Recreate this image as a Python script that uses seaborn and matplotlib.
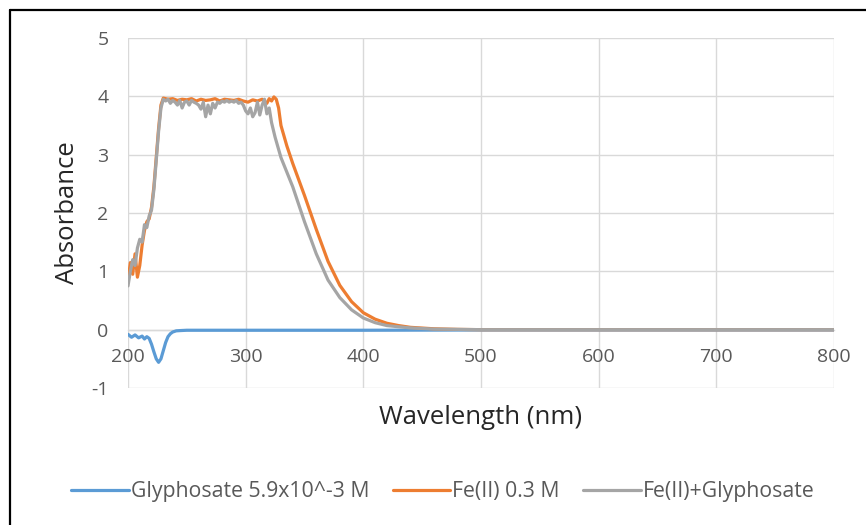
import matplotlib
matplotlib.use("Agg")
import matplotlib.pyplot as plt
from matplotlib.lines import Line2D
import seaborn as sns
import pandas as pd

# Glyphosate 5.9x10^-3 M
wl_gly = [200, 203, 206, 209, 212, 214, 216, 218, 220, 222, 224, 226, 228, 230,
          232, 234, 236, 238, 241, 245, 250, 300, 400, 500, 600, 700, 800]
abs_gly = [-0.08, -0.13, -0.09, -0.14, -0.11, -0.16, -0.12, -0.15, -0.25, -0.38, -0.5, -0.56, -0.5, -0.36,
           -0.22, -0.12, -0.07, -0.04, -0.02, -0.015, -0.01, -0.01, -0.01, -0.005, -0.005, -0.005, -0.005]

# Fe(II) 0.3 M
wl_fe = [200, 202, 204, 206, 208, 210, 212, 214, 216, 218, 220, 222, 224, 226, 228,
         230, 234, 238, 242, 246, 250, 254, 258, 262, 266, 270, 274, 278, 282, 286,
         290, 294, 298, 302, 306, 310, 314, 318, 320, 322, 324, 326, 328, 330, 335,
         340, 350, 360, 370, 380, 390, 400, 410, 420, 430, 440, 460, 480, 500, 600, 700, 800]
abs_fe = [0.85, 1.15, 0.95, 1.3, 0.9, 1.1, 1.45, 1.7, 1.85, 1.9, 2.1, 2.45, 2.95, 3.45, 3.85,
          3.97, 3.95, 3.96, 3.93, 3.95, 3.94, 3.96, 3.92, 3.95, 3.93, 3.94, 3.96, 3.92, 3.95, 3.94,
          3.93, 3.95, 3.92, 3.9, 3.94, 3.92, 3.95, 3.88, 3.96, 3.92, 3.99, 3.95, 3.8, 3.5, 3.15,
          2.85, 2.3, 1.72, 1.17, 0.76, 0.48, 0.29, 0.18, 0.11, 0.07, 0.04, 0.015, 0.005, 0.0, 0.0, 0.0, 0.0]

# Fe(II)+Glyphosate
wl_mix = [200, 202, 204, 206, 208, 210, 212, 214, 216, 218, 220, 222, 224, 226, 228,
          230, 232, 234, 236, 238, 240, 242, 244, 246, 248, 250, 252, 254, 256, 258,
          260, 262, 264, 266, 268, 270, 272, 274, 276, 278, 280, 282, 284, 286, 288,
          290, 292, 294, 296, 298, 300, 302, 304, 306, 308, 310, 312, 314, 316, 318,
          320, 322, 325, 330, 335, 340, 350, 360, 370, 380, 390, 400, 410, 420, 440,
          460, 500, 600, 700, 800]
abs_mix = [0.75, 1.0, 1.2, 1.1, 1.4, 1.55, 1.5, 1.8, 1.75, 1.95, 2.05, 2.4, 2.9, 3.4, 3.8,
           3.95, 3.92, 3.95, 3.88, 3.93, 3.9, 3.85, 3.93, 3.8, 3.9, 3.92, 3.85, 3.93, 3.9, 3.88,
           3.85, 3.78, 3.9, 3.65, 3.85, 3.7, 3.88, 3.8, 3.9, 3.88, 3.92, 3.9, 3.93, 3.9, 3.92,
           3.9, 3.93, 3.88, 3.9, 3.85, 3.75, 3.7, 3.8, 3.65, 3.72, 3.9, 3.68, 3.85, 3.95, 3.7,
           3.8, 3.55, 3.3, 2.95, 2.7, 2.45, 1.85, 1.3, 0.85, 0.55, 0.34, 0.2, 0.12, 0.07, 0.03,
           0.01, 0.0, 0.0, 0.0, 0.0]

series_names = ["Glyphosate 5.9x10^-3 M", "Fe(II) 0.3 M", "Fe(II)+Glyphosate"]
series_colors = ["#5B9BD5", "#ED7D31", "#A5A5A5"]
x_ticks = [200, 300, 400, 500, 600, 700, 800]
y_ticks = [-1, 0, 1, 2, 3, 4, 5]

frames = []
for name, wl, ab in zip(series_names, [wl_gly, wl_fe, wl_mix], [abs_gly, abs_fe, abs_mix]):
    frames.append(pd.DataFrame({"wavelength": wl, "absorbance": ab, "series": name}))
df = pd.concat(frames, ignore_index=True)

sns.set_theme(style="white")
plt.rcParams["font.family"] = ["Open Sans", "DejaVu Sans"]
plt.rcParams["axes.unicode_minus"] = False
text_color = "#595959"
grid_color = "#D9D9D9"

fig = plt.figure(figsize=(8.66, 5.25), dpi=100)
ax = fig.add_axes([128 / 866, 1 - 388 / 525, (834 - 128) / 866, (388 - 38) / 525])

sns.lineplot(data=df, x="wavelength", y="absorbance", hue="series",
             hue_order=series_names, palette=series_colors, estimator=None,
             linewidth=2.3, ax=ax, legend=False)

ax.set_xlim(200, 800)
ax.set_ylim(-1, 5)
ax.set_xticks(x_ticks)
ax.set_yticks(y_ticks)
ax.grid(True, color=grid_color, linewidth=1)
ax.set_axisbelow(True)
for s in ["top", "right", "left"]:
    ax.spines[s].set_visible(False)
ax.spines["bottom"].set_position(("data", 0))
ax.spines["bottom"].set_color(grid_color)
ax.spines["bottom"].set_linewidth(1)
ax.spines["bottom"].set_zorder(0.5)
ax.tick_params(axis="x", length=0, pad=13, labelsize=14, labelcolor=text_color)
ax.tick_params(axis="y", length=0, pad=14, labelsize=14, labelcolor=text_color)
ax.set_xlabel("")
ax.set_ylabel("")

fig.text(481 / 866, 1 - 418 / 525, "Wavelength (nm)", ha="center", va="center",
         fontsize=18.5, color="#262626")
fig.text(67 / 866, 1 - 213 / 525, "Absorbance", ha="center", va="center",
         rotation=90, fontsize=18.5, color="#262626")

handles = [Line2D([0], [0], color=c, linewidth=2.3) for c in series_colors]
fig.legend(handles, series_names, loc="center", bbox_to_anchor=(443 / 866, 1 - 492 / 525),
           ncol=3, frameon=False, handlelength=2.7, handletextpad=0.1,
           columnspacing=1.1, fontsize=15.3, labelcolor=text_color)

# frame edges along the top and left of the figure
fig.add_artist(Line2D([10 / 866, 1], [1 - 10 / 525, 1 - 10 / 525], color="black",
                      linewidth=1.6, transform=fig.transFigure))
fig.add_artist(Line2D([10 / 866, 10 / 866], [0, 1 - 10 / 525], color="black",
                      linewidth=1.6, transform=fig.transFigure))

fig.savefig("out.png", dpi=100)
